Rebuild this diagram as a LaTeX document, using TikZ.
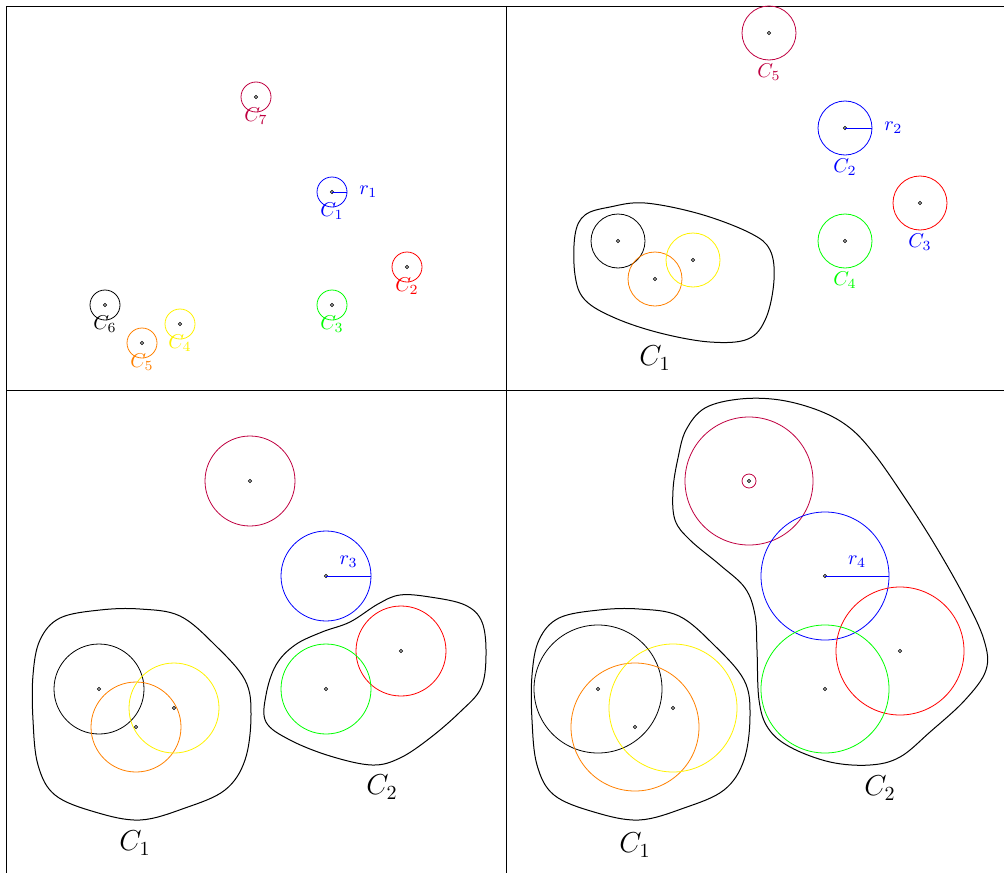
\documentclass[tikz,border=0pt]{standalone}
\usetikzlibrary{positioning,calc}
\tikzset{
    % --- centre of a point (small ring) ---
    centre/.style = {
        circle, draw, inner sep=0pt,
        minimum size=1.6pt, line width=0.4pt
    },
    % --- name of a single point ---
    name tag/.style = {
        font=\normalsize, inner sep=1pt
    },
    % --- radius label ---
    radius tag/.style = {
        font=\normalsize, inner sep=1pt, blue
    },
    % --- name of a cluster ---
    cluster tag/.style = {
        font=\Large, inner sep=1pt
    },
    % --- outline round a cluster ---
    hull/.style = {
        draw, line width=0.5pt
    }
}
% base positions: name/colour/x/y
\def\centres{pu/purple/250/481, bl/blue/326/576, re/red/401/651,
    gr/green/326/689, bk/black/99/689, or/orange/136/727, ye/yellow/174/708}

\begin{document}
\begin{tikzpicture}[x=0.5pt, y=-0.5pt]
\useasboundingbox (0,0) rectangle (1004,872);
\clip (0,0) rectangle (1004,872);

% ---------------------------------------------------------
% Frame of the four panels
% ---------------------------------------------------------
\draw (6,6) rectangle (1020,890);
\draw (506,6) -- (506,890);
\draw (6,390) -- (1020,390);

% ---------------------------------------------------------
% Panel 1: seven points
% ---------------------------------------------------------
\begin{scope}[shift={(6,-384)}]
    \foreach \n/\c/\x/\y in \centres {
        \node[centre] (a\n) at (\x,\y) {};
        \draw[\c] (a\n.center) circle[radius=15];
    }
    \coordinate (arad) at ($(abl)+(15,0)$);
    \draw[blue] (abl.center) -- (arad);
    \node[radius tag, right=5pt of arad] (ar) {$r_1$};
    \node[name tag, purple, below=3pt of apu] (apuname) {$C_7$};
    \node[name tag, blue, below=3pt of abl] (ablname) {$C_1$};
    \node[name tag, red, below=3pt of are] (arename) {$C_2$};
    \node[name tag, green, below=3pt of agr] (agrname) {$C_3$};
    \node[name tag, yellow, below=3pt of aye] (ayename) {$C_4$};
    \node[name tag, orange, below=3pt of aor] (aorname) {$C_5$};
    \node[name tag, black, below=3pt of abk] (abkname) {$C_6$};
\end{scope}

% ---------------------------------------------------------
% Panel 2: first cluster formed
% ---------------------------------------------------------
\begin{scope}[shift={(519,-448)}]
    \foreach \n/\c/\x/\y in \centres {
        \node[centre] (b\n) at (\x,\y) {};
        \draw[\c] (b\n.center) circle[radius=27];
    }
    \coordinate (brad) at ($(bbl)+(27,0)$);
    \draw[blue] (bbl.center) -- (brad);
    \node[radius tag, right=5pt of brad] (br) {$r_2$};
    \node[name tag, purple, below=13pt of bpu] (bpuname) {$C_5$};
    \node[name tag, blue, below=13pt of bbl] (bblname) {$C_2$};
    \node[name tag, blue, below=13pt of bre] (brename) {$C_3$};
    \node[name tag, green, below=13pt of bgr] (bgrname) {$C_4$};
    \draw[hull] plot[smooth cycle, tension=0.6] coordinates {
        (56,683) (66,663) (91,655) (126,651) (181,662) (231,681) (251,698)
        (255,728) (247,766) (229,787) (191,790) (141,781) (96,766) (66,748)
        (56,723)};
    \node[cluster tag] (bclus) at (136,806) {$C_1$};
\end{scope}

% ---------------------------------------------------------
% Panel 3: two clusters
% ---------------------------------------------------------
\begin{scope}
    \foreach \n/\c/\x/\y in \centres {
        \node[centre] (c\n) at (\x,\y) {};
        \draw[\c] (c\n.center) circle[radius=45];
    }
    \coordinate (crad) at ($(cbl)+(45,0)$);
    \draw[blue] (cbl.center) -- (crad) node[radius tag, midway, above=3pt] (cr) {$r_3$};
    \draw[hull] plot[smooth cycle, tension=0.6] coordinates {
        (40,640) (60,618) (100,610) (140,609) (180,616) (215,645) (245,680)
        (251,715) (245,760) (225,790) (185,808) (140,820) (95,812) (55,795)
        (38,765) (33,720) (33,675)};
    \draw[hull] plot[smooth cycle, tension=0.6] coordinates {
        (350,622) (378,604) (400,595) (430,597) (465,605) (482,622) (486,655)
        (481,688) (460,712) (430,738) (400,758) (372,765) (330,756) (290,740)
        (266,722) (266,695) (276,665) (295,645) (322,632)};
    \node[cluster tag] (cclusA) at (135,843) {$C_1$};
    \node[cluster tag] (cclusB) at (382,787) {$C_2$};
\end{scope}

% ---------------------------------------------------------
% Panel 4: final clusters
% ---------------------------------------------------------
\begin{scope}[shift={(499,0)}]
    \foreach \n/\c/\x/\y in \centres {
        \node[centre] (d\n) at (\x,\y) {};
        \draw[\c] (d\n.center) circle[radius=64];
    }
    \draw[purple] (dpu.center) circle[radius=7];
    \coordinate (drad) at ($(dbl)+(64,0)$);
    \draw[blue] (dbl.center) -- (drad) node[radius tag, midway, above=3pt] (dr) {$r_4$};
    \draw[hull] plot[smooth cycle, tension=0.6] coordinates {
        (40,640) (60,618) (100,610) (140,609) (180,616) (215,645) (245,680)
        (251,715) (245,760) (225,790) (185,808) (140,820) (95,812) (55,795)
        (38,765) (33,720) (33,675)};
    \draw[hull] plot[smooth cycle, tension=0.6] coordinates {
        (187,430) (206,408) (241,399) (281,400) (321,411) (351,428) (376,455)
        (406,498) (436,545) (466,598) (485,640) (487,670) (466,700) (431,732)
        (401,757) (371,765) (331,762) (291,747) (269,728) (260,700) (258,650)
        (256,615) (246,588) (221,565) (191,540) (176,520) (174,490) (179,458)};
    \node[cluster tag] (dclusA) at (136,845) {$C_1$};
    \node[cluster tag] (dclusB) at (381,788) {$C_2$};
\end{scope}

\end{tikzpicture}
\end{document}
